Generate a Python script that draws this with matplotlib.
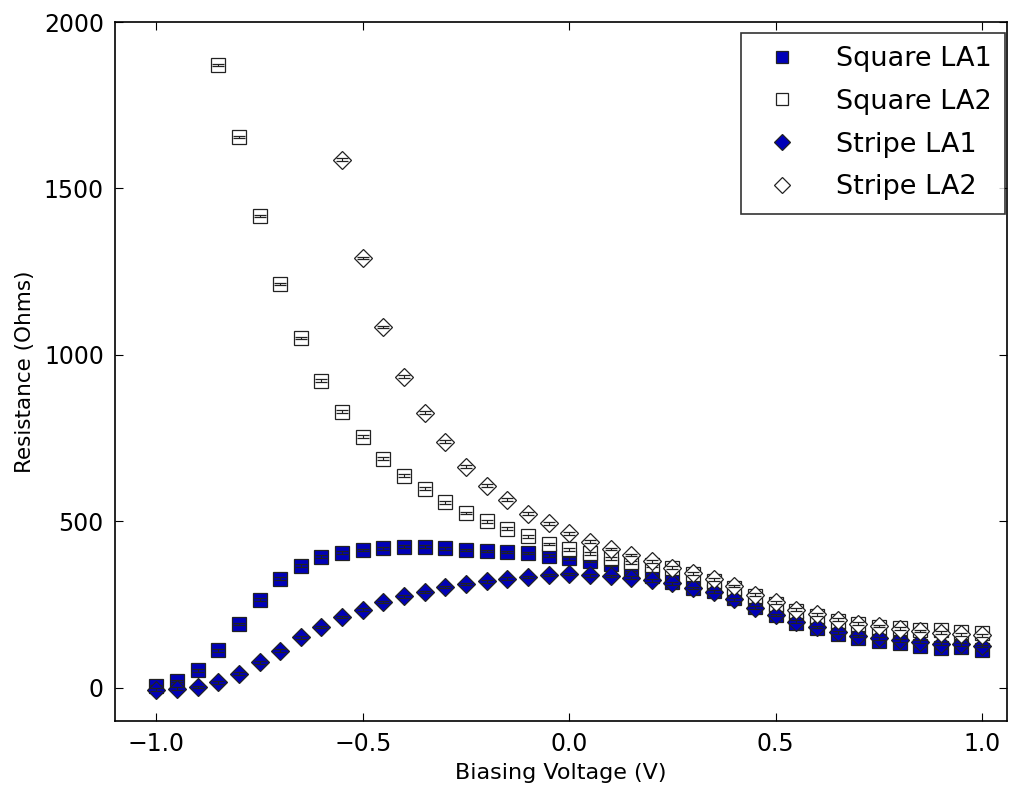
import numpy as np
import matplotlib
matplotlib.use("Agg")
import matplotlib.pyplot as plt

# Bias sweep (V)
voltage = np.round(np.arange(-1.0, 1.0001, 0.05), 2)

# Resistance (Ohms) for each device
square_la1 = [5, 20, 52, 112, 191, 264, 327, 366, 393, 406, 414, 419, 424, 424,
              419, 414, 411, 407, 404, 396, 388, 380, 370, 355, 335, 318, 300,
              290, 268, 242, 218, 195, 178, 162, 149, 139, 134, 126, 119, 122, 114]

square_la2_v = voltage[3:]
square_la2 = [1871, 1655, 1417, 1213, 1051, 922, 829, 754, 688, 637, 598, 557,
              525, 500, 478, 455, 432, 416, 403, 388, 376, 367, 358, 340, 320,
              300, 275, 252, 230, 215, 200, 190, 183, 178, 174, 172, 167, 164]

stripe_la1 = [-6, -3, 2, 16, 42, 76, 111, 151, 182, 212, 234, 257, 274, 287,
              302, 311, 319, 327, 332, 338, 341, 337, 335, 330, 322, 313, 299,
              288, 265, 240, 218, 198, 182, 166, 155, 148, 142, 138, 132, 130, 125]

stripe_la2_v = voltage[9:]
stripe_la2 = [1586, 1291, 1084, 934, 826, 739, 664, 607, 565, 523, 494, 464,
              439, 417, 398, 379, 360, 343, 325, 305, 279, 256, 234, 220, 204,
              192, 185, 177, 170, 165, 160, 157]

yerr_small = 4.0

series = [
    (voltage, square_la1, "s", "#0000b8", "Square LA1"),
    (square_la2_v, square_la2, "s", "white", "Square LA2"),
    (voltage, stripe_la1, "D", "#0000b8", "Stripe LA1"),
    (stripe_la2_v, stripe_la2, "D", "white", "Stripe LA2"),
]

plt.rcParams["font.family"] = ["DejaVu Sans"]
fig = plt.figure(figsize=(10.13, 7.87), dpi=100)
ax = fig.add_axes([0.1135, 0.084, 0.8805, 0.888])

for i, (xv, yv, mk, fc, lab) in enumerate(series):
    ax.plot(xv, yv, linestyle="none", marker=mk, markersize=9.5,
            markerfacecolor=fc, markeredgecolor="#222222",
            markeredgewidth=0.9, label=lab, zorder=3 + 2 * i)
    ax.errorbar(xv, yv, yerr=yerr_small, fmt="none", ecolor="#222222",
                elinewidth=0.8, capsize=4.6, capthick=0.9, zorder=4 + 2 * i)

ax.set_xlim(-1.1, 1.06)
ax.set_ylim(-100, 2000)
ax.set_xticks([-1.0, -0.5, 0.0, 0.5, 1.0])
ax.set_yticks([0, 500, 1000, 1500, 2000])
ax.tick_params(direction="in", top=True, right=True, length=6,
               width=0.8, labelsize=17, pad=8)
for s in ax.spines.values():
    s.set_linewidth(1.2)

ax.set_xlabel("Biasing Voltage (V)", fontsize=16, labelpad=5)
ax.set_ylabel("Resistance (Ohms)", fontsize=15.5, labelpad=6)

leg = ax.legend(loc="upper right", bbox_to_anchor=(0.998, 0.985),
                numpoints=1, fontsize=19.5, fancybox=False,
                borderaxespad=0.0, handletextpad=1.0, labelspacing=0.62,
                borderpad=0.5, markerscale=0.9)
leg.get_frame().set_edgecolor("black")
leg.get_frame().set_linewidth(1.2)

fig.savefig("out.png", dpi=100)
